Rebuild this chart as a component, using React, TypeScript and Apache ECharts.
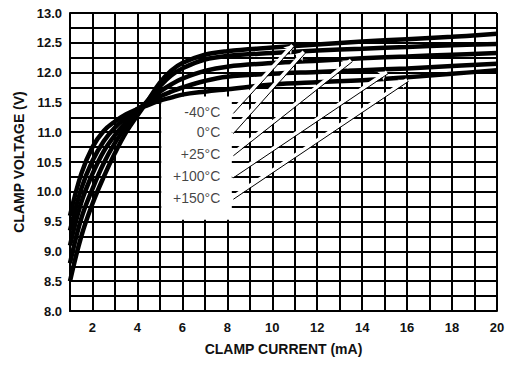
import React, { useEffect, useRef } from "react";
import * as echarts from "echarts";

// ---- data ----
const currents = [1, 1.5, 2, 2.5, 3, 3.5, 4, 4.5, 5, 5.5, 6, 7, 8, 10, 12, 14, 16, 18, 20];
const vMinus40 = [8.5, 9.25, 9.8, 10.25, 10.65, 11.0, 11.28, 11.55, 11.83, 12.03, 12.16, 12.3, 12.36, 12.42, 12.47, 12.52, 12.56, 12.6, 12.65];
const v0 = [8.8, 9.55, 10.05, 10.48, 10.82, 11.1, 11.33, 11.55, 11.77, 11.95, 12.07, 12.22, 12.28, 12.33, 12.37, 12.4, 12.43, 12.46, 12.48];
const v25 = [9.1, 9.82, 10.3, 10.68, 10.95, 11.17, 11.36, 11.53, 11.68, 11.8, 11.9, 12.03, 12.1, 12.16, 12.2, 12.24, 12.27, 12.3, 12.33];
const v100 = [9.35, 10.05, 10.52, 10.85, 11.08, 11.25, 11.39, 11.5, 11.6, 11.68, 11.75, 11.86, 11.93, 11.98, 12.01, 12.04, 12.07, 12.11, 12.15];
const v150 = [9.6, 10.3, 10.75, 11.02, 11.18, 11.3, 11.39, 11.46, 11.53, 11.58, 11.63, 11.68, 11.72, 11.8, 11.84, 11.87, 11.92, 11.98, 12.04];
const curveSets = [vMinus40, v0, v25, v100, v150];

const tempLabels = ["-40°C", "0°C", "+25°C", "+100°C", "+150°C"];
const labelAnchorCurrent = 8.2;
const labelVoltages = [11.34, 11.0, 10.63, 10.26, 9.9];
const arrowEndCurrents = [10.9, 11.4, 13.5, 15.1, 16.0];
const arrowEndVoltages = [12.46, 12.35, 12.21, 12.01, 11.88];
const boxCurrents = [5.06, 8.2];
const boxVoltages = [9.53, 11.6];

const xMin = 1, xMax = 20, xStep = 1;
const yMin = 8, yMax = 13, yStep = 0.25;
const xTitle = "CLAMP CURRENT (mA)";
const yTitle = "CLAMP VOLTAGE (V)";

const FONT = "'Liberation Sans', Arial, Helvetica, sans-serif";

export default function App() {
  const ref = useRef<HTMLDivElement>(null);
  useEffect(() => {
    if (!ref.current) return;
    const chart = echarts.init(ref.current, undefined, { renderer: "svg" });

    const curveSeries = curveSets.map((vals, i) => ({
      name: tempLabels[i],
      type: "line",
      data: currents.map((c, k) => [c, vals[k]]),
      smooth: 0.4,
      showSymbol: false,
      symbol: "none",
      lineStyle: { color: "#000", width: 4.5 },
      z: 2,
      silent: true,
    }));

    const leaderData = (dx: number, dy: number) =>
      tempLabels.map((_, i) => [
        { coord: [labelAnchorCurrent + dx, labelVoltages[i] + dy] },
        { coord: [arrowEndCurrents[i] + dx, arrowEndVoltages[i] + dy] },
      ]);

    chart.setOption({
      animation: false,
      backgroundColor: "#fff",
      grid: { left: 70, right: 20, top: 13, bottom: 55, containLabel: false },
      xAxis: {
        type: "value",
        min: xMin,
        max: xMax,
        interval: xStep,
        name: xTitle,
        nameLocation: "middle",
        nameGap: 31,
        nameTextStyle: { fontFamily: FONT, fontSize: 14, fontWeight: "bold", color: "#111" },
        axisLine: { show: true, lineStyle: { color: "#000", width: 2 } },
        axisTick: { show: false },
        axisLabel: {
          fontFamily: FONT,
          fontSize: 13,
          fontWeight: "bold",
          color: "#111",
          margin: 10,
          formatter: (v: number) => (Math.round(v) % 2 === 0 ? String(Math.round(v)) : ""),
        },
        splitLine: { show: true, lineStyle: { color: "#000", width: 2 } },
      },
      yAxis: {
        type: "value",
        min: yMin,
        max: yMax,
        interval: yStep,
        name: yTitle,
        nameLocation: "middle",
        nameGap: 44,
        nameTextStyle: { fontFamily: FONT, fontSize: 14, fontWeight: "bold", color: "#111" },
        axisLine: { show: true, lineStyle: { color: "#000", width: 2 } },
        axisTick: { show: false },
        axisLabel: {
          fontFamily: FONT,
          fontSize: 13,
          fontWeight: "bold",
          color: "#111",
          margin: 8,
          formatter: (v: number) =>
            Math.abs(v * 2 - Math.round(v * 2)) < 1e-6 ? v.toFixed(1) : "",
        },
        splitLine: { show: true, lineStyle: { color: "#000", width: 2 } },
      },
      series: [
        {
          type: "line",
          data: [[boxCurrents[0], boxVoltages[0]]],
          symbol: "none",
          lineStyle: { width: 0 },
          silent: true,
          z: 1,
          markArea: {
            silent: true,
            z: 1,
            itemStyle: { color: "#fff", opacity: 1, borderWidth: 0 },
            label: { show: false },
            data: [[{ coord: [boxCurrents[0], boxVoltages[0]] }, { coord: [boxCurrents[1], boxVoltages[1]] }]],
          },
        },
        ...curveSeries,
        {
          type: "line",
          data: [],
          silent: true,
          markLine: {
            silent: true,
            z: 6,
            symbol: ["none", "arrow"],
            symbolSize: 8,
            label: { show: false },
            emphasis: { disabled: true },
            itemStyle: { color: "#fff" },
            lineStyle: { color: "#fff", width: 3.5, type: "solid" },
            data: leaderData(0, 0),
          },
        },
        {
          type: "line",
          data: [],
          silent: true,
          markLine: {
            silent: true,
            z: 7,
            symbol: ["none", "none"],
            label: { show: false },
            emphasis: { disabled: true },
            lineStyle: { color: "#000", width: 1, type: "solid" },
            data: leaderData(0.07, -0.025),
          },
        },
        {
          type: "scatter",
          data: tempLabels.map((t, i) => [labelAnchorCurrent, labelVoltages[i], t]),
          symbolSize: 1,
          itemStyle: { color: "rgba(0,0,0,0)" },
          silent: true,
          z: 8,
          label: {
            show: true,
            position: "left",
            distance: 11,
            fontFamily: FONT,
            fontSize: 14,
            color: "#111",
            formatter: (p: any) => p.data[2],
          },
        },
      ],
    });
    return () => chart.dispose();
  }, []);
  return (
    <div
      ref={ref}
      style={{ position: "fixed", left: 0, top: 0, width: 517, height: 366, background: "#fff" }}
    />
  );
}
